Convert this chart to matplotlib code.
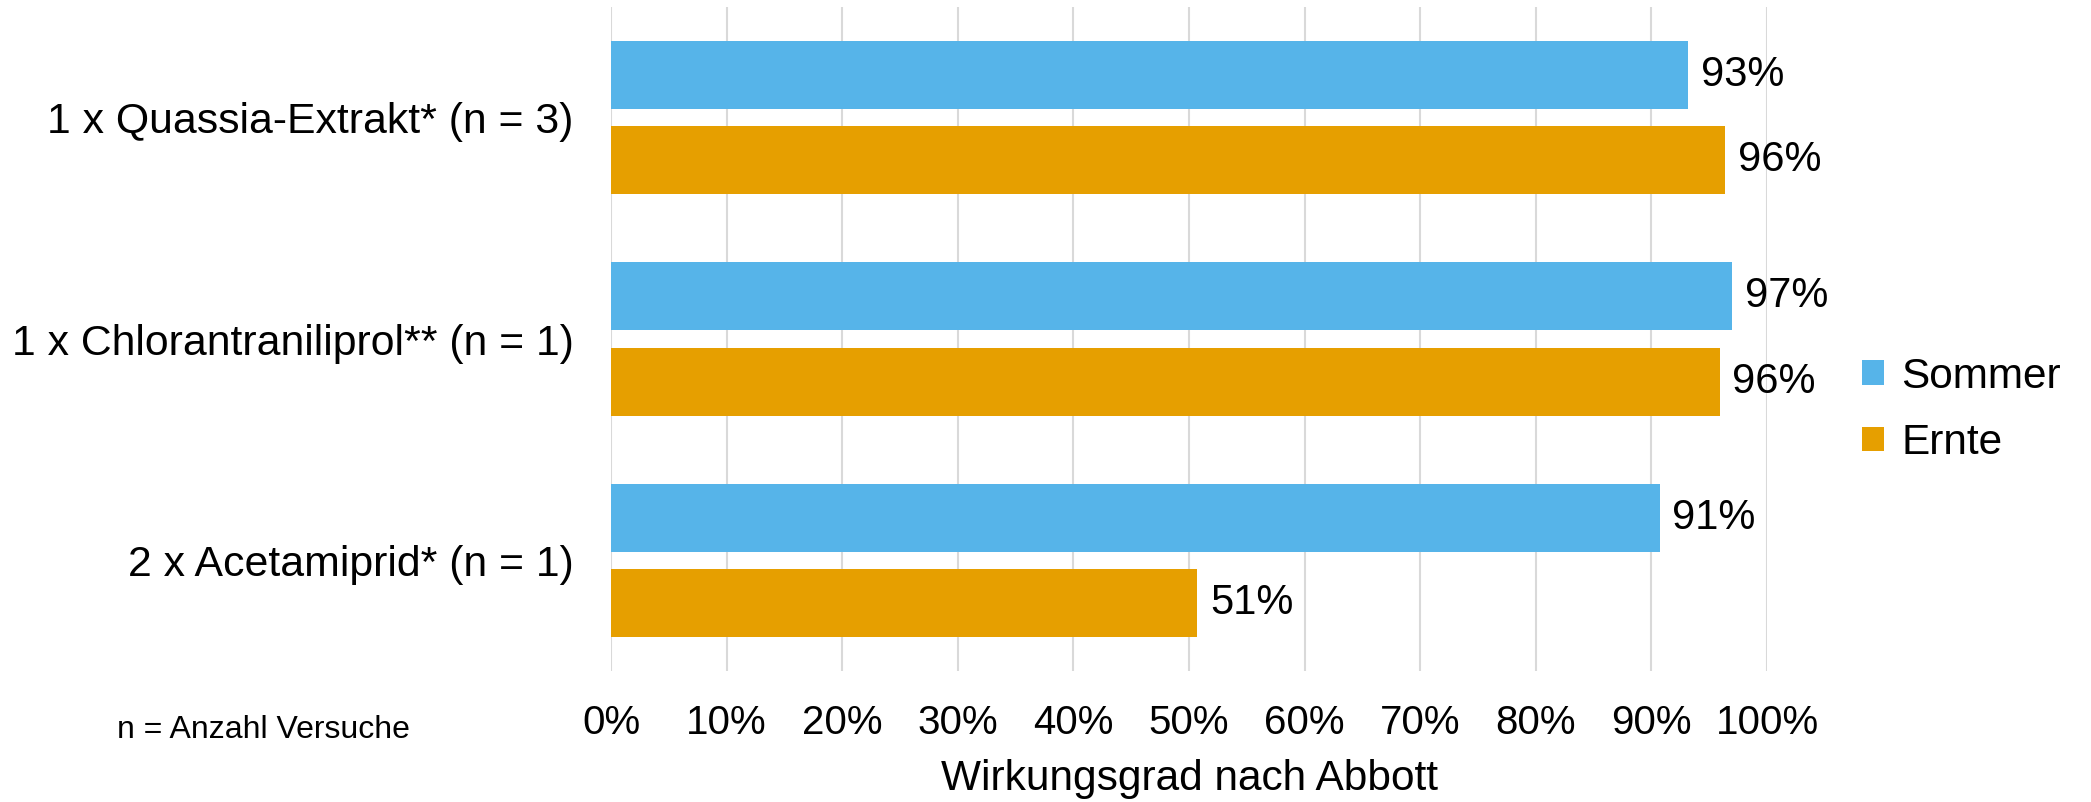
import matplotlib
matplotlib.use("Agg")
import matplotlib.pyplot as plt
import numpy as np
from matplotlib.ticker import FuncFormatter

plt.rcParams['font.family'] = ['Liberation Sans', 'DejaVu Sans']

categories = [
    "1 x Quassia-Extrakt* (n = 3)",
    "1 x Chlorantraniliprol** (n = 1)",
    "2 x Acetamiprid* (n = 1)",
]
sommer = [93.2, 97.0, 90.7]
ernte = [96.4, 95.9, 50.7]
series_names = ["Sommer", "Ernte"]
colors = ["#56B4E9", "#E69F00"]
x_ticks = [0, 10, 20, 30, 40, 50, 60, 70, 80, 90, 100]

fig = plt.figure(figsize=(20.91, 8.02), dpi=100)
ax = fig.add_axes([0.2922, 0.1633, 0.8451 - 0.2922, 0.9913 - 0.1633])

y = np.arange(len(categories))
h = 0.308
off = 0.193

bars = []
for vals, name, col, sign in zip([sommer, ernte], series_names, colors, [-1, 1]):
    b = ax.barh(y + sign * off, vals, height=h, color=col, label=name, zorder=3)
    bars.append(b)
    for yi, v in zip(y + sign * off, vals):
        ax.text(v + 1.1, yi, f"{v:.0f}%", va='center', ha='left', fontsize=30, zorder=4)

ax.set_xlim(0, 100)
ax.set_ylim(-0.5, 2.5)
ax.invert_yaxis()
ax.set_yticks(y)
ax.set_yticklabels(categories, fontsize=30.8)
ax.set_xticks(x_ticks)
ax.xaxis.set_major_formatter(FuncFormatter(lambda v, p: f"{v:.0f}%"))
ax.tick_params(axis='x', labelsize=29, length=0, pad=24)
ax.tick_params(axis='y', length=0, pad=27)
ax.grid(axis='x', color='#D9D9D9', linewidth=1.5, zorder=0)
ax.set_axisbelow(True)
for s in ax.spines.values():
    s.set_visible(False)

ax.set_xlabel("Wirkungsgrad nach Abbott", fontsize=30.5, labelpad=12)

leg = fig.legend(handles=bars, labels=series_names, loc='center left',
                 bbox_to_anchor=(0.8825, 0.489), frameon=False, fontsize=30.5,
                 handlelength=0.52, handleheight=0.52, handletextpad=0.4,
                 labelspacing=0.62, borderaxespad=0)

fig.text(0.056, 1 - 730 / 802, "n = Anzahl Versuche", fontsize=23, va='center', ha='left')

fig.savefig("out.png", dpi=100)
